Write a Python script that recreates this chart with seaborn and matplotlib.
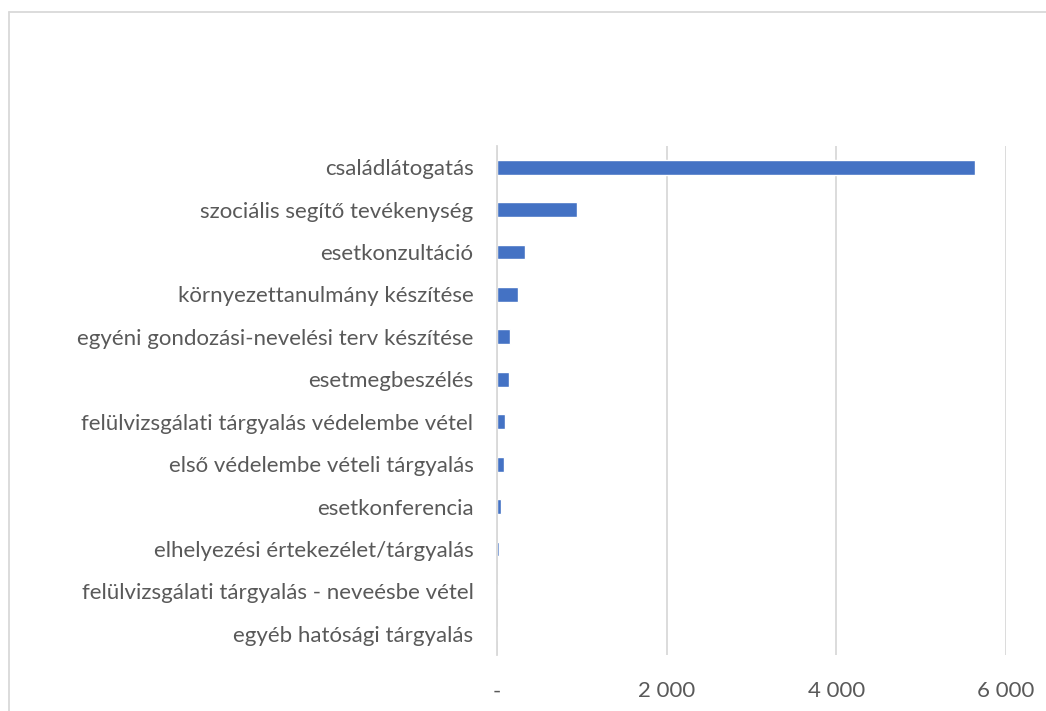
import matplotlib
matplotlib.use("Agg")
import matplotlib.pyplot as plt
import seaborn as sns
import pandas as pd
from matplotlib.lines import Line2D
from matplotlib.ticker import FixedLocator, FixedFormatter

categories = [
    "családlátogatás",
    "szociális segítő tevékenység",
    "esetkonzultáció",
    "környezettanulmány készítése",
    "egyéni gondozási-nevelési terv készítése",
    "esetmegbeszélés",
    "felülvizsgálati tárgyalás védelembe vétel",
    "első védelembe vételi tárgyalás",
    "esetkonferencia",
    "elhelyezési értekezélet/tárgyalás",
    "felülvizsgálati tárgyalás - neveésbe vétel",
    "egyéb hatósági tárgyalás",
]
values = [5640, 945, 328, 248, 148, 142, 92, 80, 44, 18, 6, 0]
tick_values = [0, 2000, 4000, 6000]
tick_labels = ["-", "2 000", "4 000", "6 000"]

sns.set_style("white")
plt.rcParams["font.family"] = ["Lato", "DejaVu Sans"]

W, H = 1046, 711
fig = plt.figure(figsize=(W / 100, H / 100), dpi=100)
ax = fig.add_axes([497 / W, 1 - 655 / H, (1006 - 497) / W, (655 - 146) / H])

df = pd.DataFrame({"cat": categories, "val": values})
sns.barplot(data=df, x="val", y="cat", orient="h", color="#4472C4",
            saturation=1, width=0.35, ax=ax)

ax.set_xlim(0, 6000)
ax.set_ylim(len(categories) - 0.5, -0.5)
ax.xaxis.set_major_locator(FixedLocator(tick_values))
ax.xaxis.set_major_formatter(FixedFormatter(tick_labels))
ax.grid(axis="x", color="#d9d9d9", linewidth=1.3)
ax.grid(axis="y", visible=False)
ax.set_axisbelow(True)
for s in ["top", "right", "bottom"]:
    ax.spines[s].set_visible(False)
ax.spines["left"].set_color("#d9d9d9")
ax.spines["left"].set_linewidth(1.3)
ax.tick_params(axis="x", length=0, pad=19, labelsize=16, labelcolor="#595959")
ax.tick_params(axis="y", length=0, pad=17, labelsize=16, labelcolor="#595959")
ax.set_xlabel("")
ax.set_ylabel("")

# outer chart border (left and top visible)
fig.add_artist(Line2D([8.5 / W, 8.5 / W], [0, 1 - 11.5 / H], transform=fig.transFigure,
                      color="#d9d9d9", linewidth=1.3))
fig.add_artist(Line2D([8.5 / W, 1], [1 - 11.5 / H, 1 - 11.5 / H], transform=fig.transFigure,
                      color="#d9d9d9", linewidth=1.3))

fig.savefig("out.png", dpi=100)
